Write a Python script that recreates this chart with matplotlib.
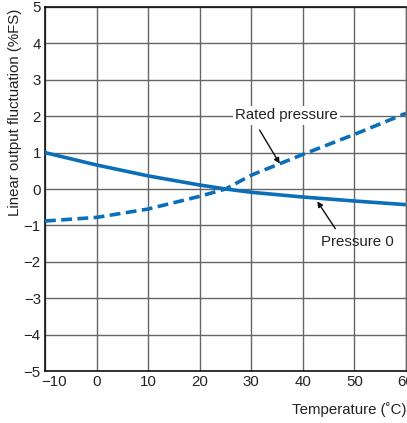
'''
linear output fluctuation vs temperature
'''

import matplotlib
matplotlib.use('Agg')
import matplotlib.pyplot as plt
import matplotlib.transforms as mtransforms

plt.rcParams['font.family'] = ['Liberation Sans', 'DejaVu Sans']

# temperature (C) and readings (%FS)
temps = [-10, 0, 10, 20, 25, 30, 40, 50, 60]
pressure0 = [1.0, 0.66, 0.36, 0.11, 0.0, -0.09, -0.22, -0.33, -0.43]
rated = [-0.88, -0.78, -0.55, -0.2, 0.0, 0.38, 0.95, 1.5, 2.08]

xticks = [-10, 0, 10, 20, 30, 40, 50, 60]
yticks = [-5, -4, -3, -2, -1, 0, 1, 2, 3, 4, 5]

blue = '#0a6fb8'
gridc = '#666666'
fs = 10.8

fig = plt.figure(figsize=(4.07, 4.23), dpi=100)
ax = fig.add_axes([45/407, 52/423, 361/407, 364/423])

ax.plot(temps, pressure0, color=blue, lw=2.6, solid_capstyle='butt', zorder=3)
ax.plot(temps, rated, color=blue, lw=2.6, dashes=(3, 1.5), zorder=3)

ax.set_xlim(-10, 60)
ax.set_ylim(-5, 5)
ax.set_xticks(xticks)
ax.set_yticks(yticks)
ax.set_xticklabels([str(t).replace('-', '\u2212') for t in xticks])
ax.set_yticklabels([str(t).replace('-', '\u2212') for t in yticks])
ax.tick_params(length=0, labelsize=fs, colors='#222222', pad=3)
ax.grid(True, color=gridc, lw=1.0)
ax.set_axisbelow(True)

for s in ['left', 'bottom', 'top']:
    ax.spines[s].set_color('#111111')
    ax.spines[s].set_linewidth(1.2)
ax.spines['right'].set_color(gridc)
ax.spines['right'].set_linewidth(1.0)

# shift the -10 label so it clears the -5
lab = ax.get_xticklabels()[0]
lab.set_transform(lab.get_transform() + mtransforms.ScaledTranslation(9/100, 0, fig.dpi_scale_trans))

arrow = dict(arrowstyle='-|>', color='#111111', lw=1.0, mutation_scale=8,
             shrinkA=0, shrinkB=0)

ax.text(36.8, 2.02, 'Rated pressure', ha='center', va='center', fontsize=fs,
        color='#222222', zorder=4,
        bbox=dict(boxstyle='square,pad=0.15', fc='white', ec='none'))
ax.annotate('', xy=(35.5, 0.70), xytext=(31.6, 1.62), arrowprops=arrow, zorder=4)

ax.text(50.5, -1.45, 'Pressure 0', ha='center', va='center', fontsize=fs,
        color='#222222', zorder=4)
ax.annotate('', xy=(42.8, -0.34), xytext=(46.3, -1.09), arrowprops=arrow, zorder=4)

fig.text(15/407, 1 - 9/423, 'Linear output fluctuation (%FS)', rotation=90,
         ha='center', va='top', fontsize=fs, color='#222222')
fig.text(406/407, 1 - 410/423, 'Temperature (\u02daC)', ha='right', va='center',
         fontsize=fs, color='#222222')

fig.savefig('out.png', dpi=100)
